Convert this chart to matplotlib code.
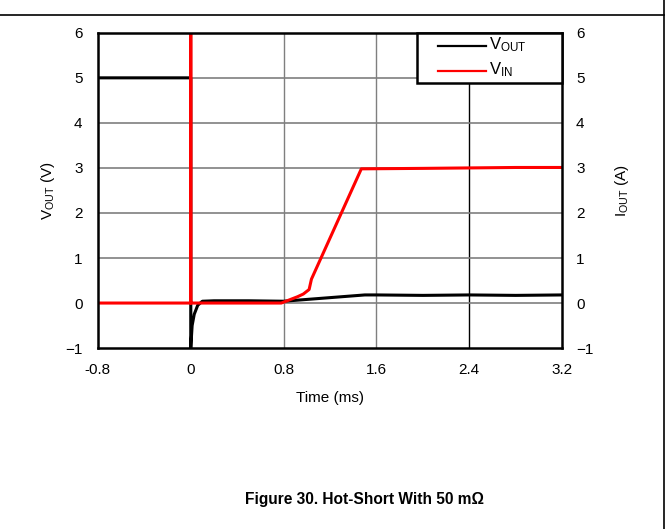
import numpy as np
import matplotlib
matplotlib.use("Agg")
import matplotlib.pyplot as plt
from matplotlib.lines import Line2D
from matplotlib.patches import Rectangle

plt.rcParams['font.family'] = ['Liberation Sans', 'DejaVu Sans']
plt.rcParams['mathtext.fontset'] = 'custom'
plt.rcParams['mathtext.rm'] = 'Liberation Sans'
plt.rcParams['mathtext.it'] = 'Liberation Sans:italic'

# output voltage trace (V) vs time (ms)
vout_t = [-0.8, -0.001, 0.0, 0.0, 0.012, 0.03, 0.06, 0.1, 0.2, 0.5, 0.8, 0.9, 1.0, 1.1, 1.2, 1.3, 1.4, 1.5, 1.6, 2.0, 2.4, 2.8, 3.2]
vout_v = [5.0, 5.0, 5.0, -1.0, -0.5, -0.25, -0.05, 0.04, 0.05, 0.05, 0.04, 0.06, 0.08, 0.1, 0.12, 0.14, 0.16, 0.18, 0.18, 0.17, 0.18, 0.17, 0.18]

# input trace
vin_t = [-0.8, 0.0, 0.0, 0.0, 0.78, 0.85, 0.92, 0.97, 1.02, 1.04, 1.47, 1.5, 2.0, 2.4, 2.8, 3.2]
vin_v = [0.0, 0.0, 6.0, 0.0, 0.0, 0.07, 0.14, 0.2, 0.3, 0.53, 2.98, 2.98, 2.99, 3.0, 3.01, 3.01]

xticks = [-0.8, 0, 0.8, 1.6, 2.4, 3.2]
xtick_labels = ['-0.8', '0', '0.8', '1.6', '2.4', '3.2']
yticks = [-1, 0, 1, 2, 3, 4, 5, 6]

fs = 11

fig = plt.figure(figsize=(6.66, 5.29), dpi=100)
ax = fig.add_axes([0.147, 0.342, 0.697, 0.596])

ax.set_xlim(-0.8, 3.2)
ax.set_ylim(-1, 6)
ax.set_xticks(xticks)
ax.set_xticklabels(xtick_labels)
ax.set_yticks(yticks)
ax.tick_params(axis='x', length=0, labelsize=fs, pad=11)
ax.tick_params(axis='y', length=0, labelsize=fs, pad=11)

# grid
for x in xticks[1:-1]:
    ax.axvline(x, color='black' if x == 2.4 else '#7f7f7f', lw=1.0, zorder=1)
for y in yticks[1:-1]:
    ax.axhline(y, color='#7f7f7f', lw=1.2, zorder=1)

l_out, = ax.plot(vout_t, vout_v, color='black', lw=2.2, zorder=3)
l_in, = ax.plot(vin_t, vin_v, color='#ff0000', lw=2.2, zorder=4)

for s in ax.spines.values():
    s.set_linewidth(1.8)
    s.set_color('black')
    s.set_zorder(5)

ax.set_xlabel('Time (ms)', fontsize=fs, labelpad=10)
ax.set_ylabel(r'V$_\mathrm{OUT}$ (V)', fontsize=fs, labelpad=6)

ax2 = ax.twinx()
ax2.set_ylim(-1, 6)
ax2.set_yticks(yticks)
ax2.tick_params(length=0, labelsize=fs, pad=10)
ax2.set_ylabel(r'I$_\mathrm{OUT}$ (A)', fontsize=fs, labelpad=14)
for s in ax2.spines.values():
    s.set_visible(False)

# legend box in the upper right corner
ax.add_patch(Rectangle((0.6875, 0.841), 0.3125, 0.159, transform=ax.transAxes,
                       facecolor='white', edgecolor='black', lw=1.8, zorder=6, clip_on=False))
for line, label, yy in [(l_out, r'V$_\mathrm{OUT}$', 0.959), (l_in, r'V$_\mathrm{IN}$', 0.880)]:
    ax.plot([0.733, 0.836], [yy, yy], transform=ax.transAxes, color=line.get_color(),
            lw=1.6, zorder=7, clip_on=False)
    ax.text(0.842, yy + 0.004, label, transform=ax.transAxes, fontsize=12,
            va='center', ha='left', zorder=7)

fig.text(0.547, 0.055, 'Figure 30. Hot-Short With 50 m\u03a9', ha='center', va='center',
         fontsize=11.2, fontweight='bold')

# page frame lines
fig.add_artist(Line2D([0, 0.997], [1 - 15 / 529, 1 - 15 / 529], color='black', lw=1.2))
fig.add_artist(Line2D([0.997, 0.997], [0, 1], color='black', lw=1.2))

fig.savefig('out.png', dpi=100)
